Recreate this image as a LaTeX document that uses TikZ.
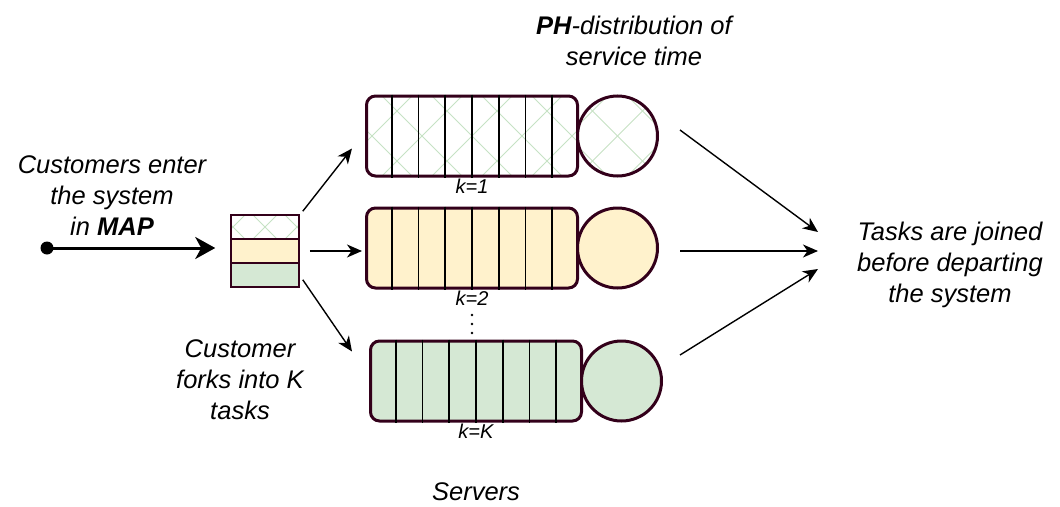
\documentclass[tikz,border=0pt]{standalone}
\usepackage{fontspec}
\setmainfont{Liberation Sans}
\usetikzlibrary{shapes,arrows.meta,positioning,calc}
\definecolor{darkplum}{RGB}{51,0,26}
\definecolor{peach}{RGB}{255,242,204}
\definecolor{sage}{RGB}{213,232,212}
\definecolor{hatchgreen}{RGB}{198,226,196}
\tikzset{
    queue/.style={rectangle, draw=darkplum, line width=3pt, rounded corners=9pt, minimum width=211pt, minimum height=80pt, inner sep=0pt},
    server/.style={circle, draw=darkplum, line width=3pt, minimum size=80pt, inner sep=0pt},
    slot/.style={rectangle, draw=darkplum, line width=1.5pt, minimum width=68pt, minimum height=24pt, inner sep=0pt},
    hatched/.style={path picture={
        \foreach \k in {-14,...,14} {
            \draw[hatchgreen, line width=1pt] ($(path picture bounding box.center)+(\k*#1-200,-200)$) -- ++(400,400);
            \draw[hatchgreen, line width=1pt] ($(path picture bounding box.center)+(\k*#1-200,200)$) -- ++(400,-400);
        }}},
    line/.style={draw, -{Stealth[length=15pt, width=13pt, inset=4.5pt]}, line width=1.4pt},
    entry/.style={draw, -{Stealth[length=20pt, width=22pt, inset=6pt]}, line width=3pt},
    caption/.style={font=\itshape\fontsize{25.5}{31}\selectfont, align=center},
    klabel/.style={font=\itshape\fontsize{20}{22}\selectfont, inner sep=1pt}
}
\begin{document}
\begin{tikzpicture}[x=1pt, y=-1pt]
    \useasboundingbox (0,0) rectangle (1060,506);

    % servers: queue + service circle
    \node [queue, fill=white, hatched=50] (q1) at (472,136) {};
    \node [server, fill=white, hatched=50, right=-3pt of q1] (s1) {};
    \node [queue, fill=peach] (q2) at (472,248) {};
    \node [server, fill=peach, right=-3pt of q2] (s2) {};
    \node [queue, fill=sage] (q3) at (476,381) {};
    \node [server, fill=sage, right=-3pt of q3] (s3) {};
    \foreach \q in {q1,q2,q3}
        \foreach \i in {1,...,7}
            \draw [line width=1.6pt] ($(\q.north west)!\i/8!(\q.north east)$) -- ($(\q.south west)!\i/8!(\q.south east)$);

    \node [klabel, below=0pt of q1] (k1) {k=1};
    \node [klabel, below=0pt of q2] (k2) {k=2};
    \node [klabel, below=0pt of q3] (kK) {k=K};
    \foreach \y in {315,324,333}
        \fill (472,\y) circle (1.3pt);

    % fork box
    \node [slot, fill=white, hatched=32] (f1) at (265,227) {};
    \node [slot, fill=peach, below=-1.5pt of f1] (f2) {};
    \node [slot, fill=sage, below=-1.5pt of f2] (f3) {};

    % arrival
    \node [circle, fill, inner sep=0pt, minimum size=13pt] (src) at (47,248) {};
    \path [entry] (src.center) -- ([shift={(-15,-3)}]f2.west);

    \path [line] ([shift={(3,-3)}]f1.north east) -- ([shift={(-13,-29)}]q1.south west);
    \path [line] ([xshift=10pt]f2.east) -- ([xshift=-3pt]f2.east -| q2.west);
    \path [line] ([shift={(3,-8)}]f3.south east) -- ([shift={(-17,12)}]q3.north west);

    % join
    \coordinate (join) at (818,251);
    \path [line] ([shift={(21,-6)}]s1.east) -- ([shift={(0,-19)}]join);
    \path [line] ([shift={(21,3)}]s2.east) -- (join);
    \path [line] ([shift={(17,-26)}]s3.east) -- ([shift={(0,18)}]join);

    % texts
    \node [caption] (enter) at (112,196) {Customers enter\\the system\\in \textbf{MAP}};
    \node [caption] (ph) at (634,41) {\textbf{PH}-distribution of\\service time};
    \node [caption] (joined) at (950,265) {Tasks are joined\\before departing\\the system};
    \node [caption] (fork) at (240,380) {Customer\\forks into K\\tasks};
    \node [caption] (servers) at (476,492) {Servers};
\end{tikzpicture}
\end{document}
